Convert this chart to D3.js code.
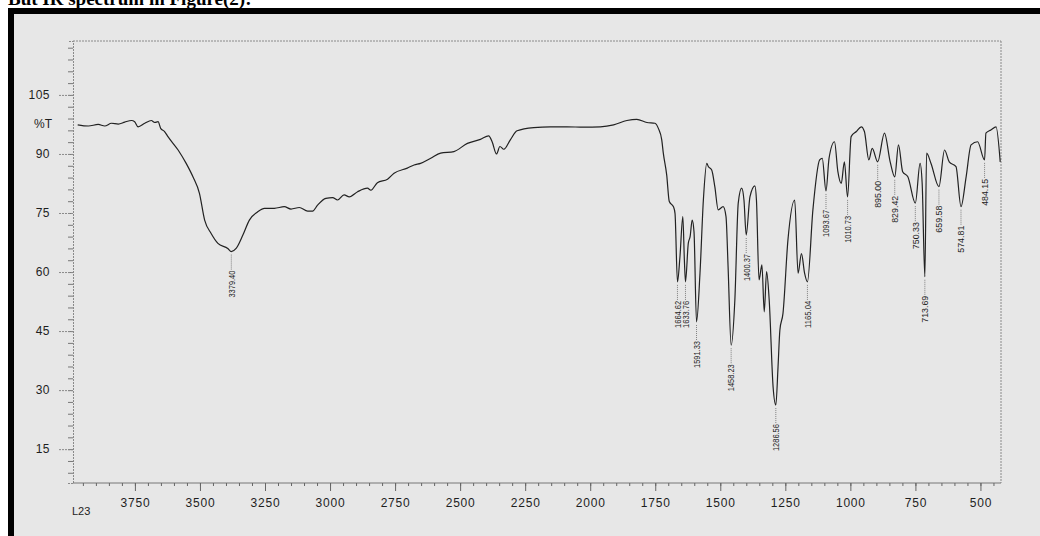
<!DOCTYPE html>
<html>
<head>
<meta charset="utf-8">
<script src="https://cdn.jsdelivr.net/npm/d3@7"></script>
<style>
  body { margin: 0; background: #fff; }
  svg { display: block; }
</style>
</head>
<body>
<div id="chart"></div>
<script>
// IR spectrum: wavenumber (cm-1) and %T
const wavenumbers = [
  3970, 3929, 3891, 3866, 3840, 3814, 3789, 3763, 3751, 3738, 3712, 3687, 3674, 3661, 3651,
  3636, 3623, 3584, 3553, 3527, 3502, 3482, 3457, 3431, 3393, 3379.4, 3361, 3335, 3310, 3278,
  3252, 3214, 3176, 3150, 3118, 3086, 3067, 3048, 3016, 2990, 2971, 2946, 2926, 2894, 2856,
  2843, 2818, 2779, 2754, 2703, 2677, 2652, 2613, 2575, 2524, 2472, 2422, 2390, 2377, 2360,
  2347, 2332, 2307, 2281, 2217, 2153, 2089, 2025, 1961, 1910, 1859, 1821, 1782, 1751, 1738,
  1725, 1719, 1706, 1696, 1680, 1674, 1664.62, 1655, 1644, 1638, 1633.76, 1623, 1616, 1608, 1601,
  1591.33, 1578, 1565, 1552, 1546, 1533, 1521, 1508, 1489, 1478, 1470, 1458.23, 1444, 1431, 1418,
  1409, 1400.37, 1386, 1367, 1361, 1351, 1340, 1331, 1322, 1312, 1297, 1286.56, 1278, 1271, 1259,
  1240, 1214, 1201, 1188, 1176, 1165.04, 1144, 1118, 1108, 1093.67, 1082, 1061, 1048, 1035, 1023,
  1010.73, 997, 977, 958, 946, 929, 916, 895.00, 869, 847, 829.42, 815, 799, 779, 750.33,
  732, 724, 713.69, 707, 690, 659.58, 638, 620, 594, 574.81, 555, 536, 511, 484.15, 479,
  460, 440, 424
];
const transmittance = [
  97.4, 97.1, 97.5, 97.1, 97.8, 97.6, 98.1, 98.5, 98.2, 96.9, 97.8, 98.5, 98.0, 98.2, 96.5,
  95.7, 94.4, 91.0, 87.6, 84.2, 80.0, 73.2, 69.8, 67.3, 66.0, 65.2, 66.0, 69.4, 73.2, 75.3,
  76.2, 76.2, 76.6, 76.0, 76.4, 75.5, 75.5, 77.0, 78.7, 78.9, 78.3, 79.6, 79.1, 80.4, 81.3,
  80.8, 82.7, 83.6, 85.1, 86.4, 87.2, 87.6, 88.9, 90.2, 90.6, 92.7, 93.7, 94.6, 93.1, 90.0,
  91.9, 91.2, 93.6, 95.9, 96.7, 96.9, 96.9, 96.8, 96.9, 97.4, 98.5, 98.8, 98.0, 97.8, 96.5,
  93.6, 90.2, 84.7, 77.9, 76.6, 74.9, 57.5, 63.9, 74.1, 63.0, 57.5, 67.3, 69.0, 73.2, 70.2,
  47.3, 59.7, 78.3, 87.6, 86.8, 85.9, 81.7, 75.8, 76.6, 74.1, 61.3, 41.4, 52.9, 77.5, 81.3,
  78.3, 69.4, 79.1, 81.9, 78.3, 58.0, 61.8, 49.9, 60.1, 52.9, 30.8, 26.2, 35.9, 45.2, 49.5,
  68.1, 78.3, 59.7, 64.7, 59.7, 57.5, 75.8, 88.5, 88.9, 80.6, 88.9, 93.1, 85.5, 82.5, 88.0,
  79.1, 94.4, 95.7, 96.9, 95.7, 88.5, 91.4, 88.0, 95.3, 88.0, 84.2, 92.3, 85.5, 84.2, 77.5,
  87.6, 82.5, 58.8, 90.2, 87.6, 81.7, 91.0, 88.0, 86.8, 76.6, 84.2, 92.3, 93.1, 88.5, 95.3,
  96.1, 96.9, 88.0
];
// picked peaks printed under the trace
const peakPositions = [
  3379.40, 1664.62, 1633.76, 1591.33, 1458.23, 1400.37, 1286.56, 1165.04,
  1093.67, 1010.73, 895.00, 829.42, 750.33, 713.69, 659.58, 574.81, 484.15
];
const yTickValues = [15, 30, 45, 60, 75, 90, 105];
const xTickValues = [3750, 3500, 3250, 3000, 2750, 2500, 2250, 2000, 1750, 1500, 1250, 1000, 750, 500];

const width = 1040;
const height = 536;
const plot = { left: 73, right: 1001, top: 41, bottom: 483 };

const spectrum = wavenumbers.map((w, i) => ({ w: w, t: transmittance[i] }));

const svg = d3.select("#chart")
  .append("svg")
  .attr("width", width)
  .attr("height", height);

// page title, cut off by the top of the picture
svg.append("text")
  .attr("x", 8)
  .attr("y", 5)
  .style("font-family", "'Liberation Serif', 'Times New Roman', serif")
  .style("font-weight", "bold")
  .style("font-size", "19px")
  .style("fill", "#000")
  .text("But IR spectrum in Figure(2):");

// black frame + grey paper
svg.append("rect")
  .attr("x", 8).attr("y", 8)
  .attr("width", width).attr("height", height)
  .attr("fill", "#000");
svg.append("rect")
  .attr("x", 14).attr("y", 14)
  .attr("width", width).attr("height", height)
  .attr("fill", "#e7e7e7");

const x = d3.scaleLinear()
  .domain([3988, 421])
  .range([plot.left, plot.right]);

const y = d3.scaleLinear()
  .domain([6.4, 118.7])
  .range([plot.bottom, plot.top]);

const axisFont = "'Liberation Sans', Arial, sans-serif";

// frame lines (top / right dotted, as scanned)
svg.append("line")
  .attr("x1", plot.left).attr("x2", plot.right)
  .attr("y1", plot.top).attr("y2", plot.top)
  .attr("stroke", "#8a8a8a").attr("stroke-width", 1)
  .attr("stroke-dasharray", "2,1");
svg.append("line")
  .attr("x1", plot.right).attr("x2", plot.right)
  .attr("y1", plot.top).attr("y2", plot.bottom)
  .attr("stroke", "#8a8a8a").attr("stroke-width", 1)
  .attr("stroke-dasharray", "2,1");

// y axis
const yAxisMinor = d3.axisLeft(y)
  .tickValues(d3.range(9, 118, 3))
  .tickSize(5)
  .tickFormat("");
svg.append("g")
  .attr("transform", `translate(${plot.left},0)`)
  .call(yAxisMinor)
  .call(g => g.selectAll("line").attr("stroke", "#777"))
  .call(g => g.select(".domain").attr("stroke", "#8a8a8a").attr("stroke-dasharray", "2,1"));

const yAxis = d3.axisLeft(y)
  .tickValues(yTickValues)
  .tickSize(15)
  .tickPadding(8);
svg.append("g")
  .attr("transform", `translate(${plot.left},0)`)
  .call(yAxis)
  .call(g => g.select(".domain").remove())
  .call(g => g.selectAll("line").attr("stroke", "#8a8a8a").attr("stroke-dasharray", "2,1"))
  .call(g => g.selectAll("text")
    .style("font-family", axisFont)
    .style("font-size", "12px")
    .style("letter-spacing", "0.5px")
    .style("fill", "#1e1e1e"));

svg.append("text")
  .attr("x", 34)
  .attr("y", y(97.6))
  .attr("dy", "0.35em")
  .style("font-family", axisFont)
  .style("font-size", "12px")
  .style("fill", "#1e1e1e")
  .text("%T");

// x axis
const xAxisMinor = d3.axisBottom(x)
  .tickValues(d3.range(450, 3960, 50))
  .tickSize(3)
  .tickFormat("");
svg.append("g")
  .attr("transform", `translate(0,${plot.bottom})`)
  .call(xAxisMinor)
  .call(g => g.selectAll("line").attr("stroke", "#666"))
  .call(g => g.select(".domain").attr("stroke", "#777").attr("d", `M${plot.left},0H${plot.right}`));

const xAxis = d3.axisBottom(x)
  .tickValues(xTickValues)
  .tickSize(8)
  .tickPadding(7)
  .tickFormat(d3.format("d"));
svg.append("g")
  .attr("transform", `translate(0,${plot.bottom})`)
  .call(xAxis)
  .call(g => g.select(".domain").remove())
  .call(g => g.selectAll("line").attr("stroke", "#666"))
  .call(g => g.selectAll("text")
    .style("font-family", axisFont)
    .style("font-size", "12px")
    .style("letter-spacing", "0.8px")
    .style("fill", "#1e1e1e"));

svg.append("text")
  .attr("x", 72)
  .attr("y", 515)
  .style("font-family", axisFont)
  .style("font-size", "11px")
  .style("fill", "#1e1e1e")
  .text("L23");

// spectrum trace
const line = d3.line()
  .x(d => x(d.w))
  .y(d => y(d.t))
  .curve(d3.curveMonotoneX);

svg.append("path")
  .datum(spectrum)
  .attr("d", line)
  .attr("fill", "none")
  .attr("stroke", "#222")
  .attr("stroke-width", 1.2)
  .attr("stroke-linejoin", "round");

// peak labels: dotted leader and vertical value text
const peaks = peakPositions.map(p => {
  const nearest = spectrum.reduce((a, b) => Math.abs(b.w - p) < Math.abs(a.w - p) ? b : a);
  return { w: p, t: nearest.t };
});

const peakG = svg.append("g");
peakG.selectAll(".leader")
  .data(peaks)
  .enter().append("line")
  .attr("class", "leader")
  .attr("x1", d => x(d.w))
  .attr("x2", d => x(d.w))
  .attr("y1", d => y(d.t) + 3)
  .attr("y2", d => y(d.t) + 18)
  .attr("stroke", "#666")
  .attr("stroke-width", 0.8)
  .attr("stroke-dasharray", "1,1");

peakG.selectAll(".peak-label")
  .data(peaks)
  .enter().append("text")
  .attr("class", "peak-label")
  .attr("transform", d => `translate(${x(d.w)},${y(d.t) + 19}) rotate(-90)`)
  .attr("dy", "0.35em")
  .attr("text-anchor", "end")
  .attr("textLength", 27)
  .attr("lengthAdjust", "spacingAndGlyphs")
  .style("font-family", axisFont)
  .style("font-size", "9.5px")
  .style("fill", "#1e1e1e")
  .text(d => d.w.toFixed(2));
</script>
</body>
</html>
